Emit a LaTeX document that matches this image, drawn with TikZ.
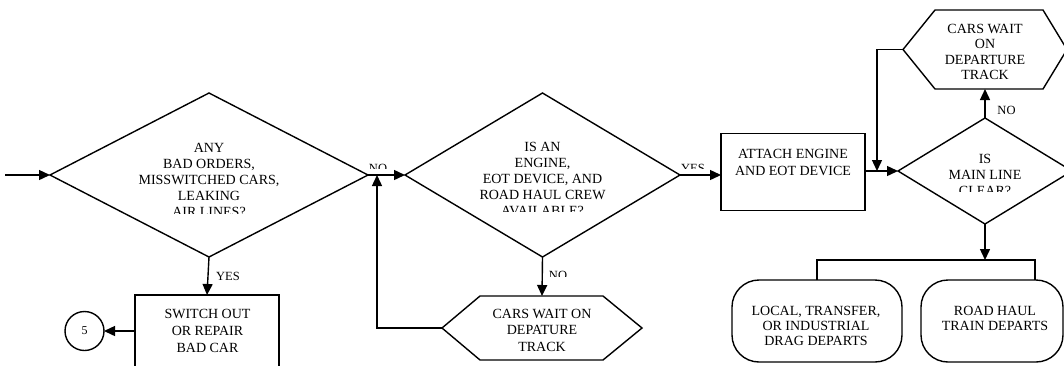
\documentclass[tikz,border=0pt]{standalone}
\usepackage{fontspec}
\setmainfont{Liberation Serif}
\usetikzlibrary{shapes.geometric,arrows.meta}
\tikzset{
  ln/.style={line width=1.4pt},
  arr/.style={ln,-{Triangle[length=11pt,width=10pt]}},
  decision/.style={diamond,draw,ln,inner sep=0pt,outer sep=0pt},
  procbox/.style={rectangle,draw,ln,inner sep=0pt,outer sep=0pt},
  hexbox/.style={rectangle,inner sep=0pt,outer sep=0pt},
  endbox/.style={rectangle,draw,ln,rounded corners=27pt,inner sep=0pt,outer sep=0pt},
  conn/.style={circle,draw,ln,inner sep=0pt,outer sep=0pt,minimum size=39pt,font=\fontsize{12}{14}\selectfont},
  txt/.style={align=center,inner sep=0pt,font=\fontsize{14}{16.1}\selectfont},
  lbl/.style={inner sep=0pt,font=\fontsize{12.5}{14}\selectfont},
}
\begin{document}
\begin{tikzpicture}[x=1pt,y=-1pt]
\clip (0,0) rectangle (1064,365);
\fill[white] (0,0) rectangle (1064,365);

% shapes
\node[decision,minimum width=318pt,minimum height=164pt] (d1) at (209,175) {};
\node[decision,minimum width=275pt,minimum height=164pt] (d2) at (542.5,175) {};
\node[procbox,minimum width=144pt,minimum height=77pt] (b1) at (793,172) {};
\node[decision,minimum width=174pt,minimum height=106pt] (d3) at (985,171) {};
\node[hexbox,minimum width=164pt,minimum height=79pt] (h1) at (985,49.5) {};
\draw[ln] (h1.west) -- ([xshift=32pt]h1.north west) -- ([xshift=-24pt]h1.north east)
  -- (h1.east) -- ([xshift=-24pt]h1.south east) -- ([xshift=32pt]h1.south west) -- cycle;
\node[hexbox,minimum width=200pt,minimum height=64pt] (h2) at (542,328) {};
\draw[ln] (h2.west) -- ([xshift=38pt]h2.north west) -- ([xshift=-39pt]h2.north east)
  -- (h2.east) -- ([xshift=-39pt]h2.south east) -- ([xshift=38pt]h2.south west) -- cycle;
\node[procbox,minimum width=144pt,minimum height=84pt] (b2) at (207,337) {};
\node[conn] (c5) at (84.5,331) {5};
\node[endbox,minimum width=170pt,minimum height=82pt] (r1) at (817,321) {};
\node[endbox,minimum width=142pt,minimum height=82pt] (r2) at (992,321) {};

% texts
\begin{scope}
\clip (100,130) rectangle (320,213.3);
\node[txt] (t1) at (209,179.9) {ANY\\BAD ORDERS,\\MISSWITCHED CARS,\\LEAKING\\AIR LINES?};
\end{scope}
\begin{scope}
\clip (430,130) rectangle (660,211.7);
\node[txt] (t2) at (542.5,178.8) {IS AN\\ENGINE,\\EOT DEVICE, AND\\ROAD HAUL CREW\\AVAILABLE?};
\end{scope}
\begin{scope}
\clip (920,140) rectangle (1050,191.7);
\node[txt] (t3) at (985,174.7) {IS\\MAIN LINE\\CLEAR?};
\end{scope}
\node[txt,font=\fontsize{14}{17}\selectfont] (t4) at (793,162) {ATTACH ENGINE\\AND EOT DEVICE};
\node[txt,font=\fontsize{14}{15.6}\selectfont] (t5) at (985,52) {CARS WAIT\\ON\\DEPARTURE\\TRACK};
\node[txt,font=\fontsize{14}{16.5}\selectfont] (t6) at (542,330) {CARS WAIT ON\\DEPATURE\\TRACK};
\node[txt,font=\fontsize{14}{17}\selectfont] (t7) at (207.5,330.5) {SWITCH OUT\\OR REPAIR\\BAD CAR};
\node[txt,font=\fontsize{14}{15}\selectfont] (t8) at (816,325.5) {LOCAL, TRANSFER,\\OR INDUSTRIAL\\DRAG DEPARTS};
\node[txt,font=\fontsize{14}{15}\selectfont] (t9) at (995,318) {ROAD HAUL\\TRAIN DEPARTS};

% connectors
\coordinate (start) at (5,175);
\coordinate (j1) at (877,171);
\coordinate (j2) at (377,175);
\coordinate (split) at (985,260);
\draw[arr] (start) -- (d1.west);
\draw[arr] (d1.east) -- (d2.west);
\draw[arr] (d2.east) -- (b1.west |- d2.east);
\draw[arr] (b1.east |- d3.west) -- (d3.west);
\draw[arr] (d3.north) -- (h1.south);
\draw[arr] (h1.west) -| (j1);
\draw[arr] (d3.south) -- (split);
\draw[ln] (r1.north) |- (split) -| ([xshift=43pt]r2.north);
\draw[arr] (d1.south) -- (b2.north);
\draw[arr] (b2.west |- c5.east) -- (c5.east);
\draw[arr] (d2.south) -- (h2.north);
\draw[arr] (h2.west) -| (j2);

% labels
\begin{scope}
\clip (360,150) rectangle (400,168.5);
\node[lbl,anchor=base] (n1) at (378,172) {NO};
\end{scope}
\begin{scope}
\clip (670,150) rectangle (720,168.5);
\node[lbl,anchor=base] (y1) at (693,172) {YES};
\end{scope}
\begin{scope}
\clip (545,260) rectangle (580,276.5);
\node[lbl,anchor=base] (n2) at (558,279.5) {NO};
\end{scope}
\node[lbl,anchor=base] (n3) at (1006.5,114.7) {NO};
\node[lbl,anchor=base] (y2) at (228,280) {YES};
\end{tikzpicture}
\end{document}
